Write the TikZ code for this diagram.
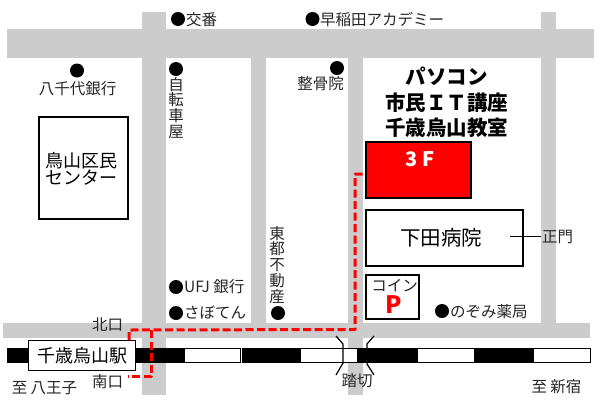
\documentclass[tikz,border=0pt]{standalone}
\usepackage{fontspec}
\setmainfont{Noto Sans CJK JP}
\definecolor{road}{HTML}{CCCCCC}
\definecolor{routered}{HTML}{FF0000}
\tikzset{
  roadfill/.style={fill=road,draw=none},
  building/.style={draw=black,line width=2pt,fill=white,inner sep=0pt,anchor=north west},
  railblack/.style={fill=black,draw=black,line width=1pt},
  railwhite/.style={fill=white,draw=black,line width=1pt},
  poi/.style={circle,fill=black,inner sep=0pt,minimum size=14pt},
  lbl/.style={font=\fontsize{15.5}{16}\selectfont,inner sep=0pt,text=black!85},
  vlbl/.style={font=\fontsize{15.5}{15.7}\selectfont,inner sep=0pt,align=center,text=black!85},
  route/.style={draw=routered,line width=3pt,dash pattern=on 8pt off 3.5pt,line join=round},
  gate/.style={draw=black,line width=1.2pt}
}
\begin{document}
\begin{tikzpicture}[x=1pt,y=-1pt]
\useasboundingbox (0,0) rectangle (600,400);
\fill[white] (0,0) rectangle (600,400);
% roads
\fill[roadfill] (7,29) rectangle (594,58);
\fill[roadfill] (142,12) rectangle (166,395);
\fill[roadfill] (251,58) rectangle (266,323);
\fill[roadfill] (348,58) rectangle (363,395);
\fill[roadfill] (541,12) rectangle (556,323);
\fill[roadfill] (3,323) rectangle (590,338);
% railway
\draw[railblack] (7.5,348.5) rectangle (184,362);
\draw[railwhite] (184,348.5) rectangle (240.5,362);
\draw[railblack] (242.5,348.5) rectangle (300,362);
\draw[railwhite] (300,348.5) rectangle (357,362);
\draw[railblack] (357,348.5) rectangle (416,362);
\draw[railwhite] (417.5,348.5) rectangle (474,362);
\draw[railblack] (474,348.5) rectangle (533,362);
\draw[railwhite] (533,348.5) rectangle (590,362);
% crossing gates
\draw[gate] (336,336) -- (343,344) -- (343,363) -- (336,375);
\draw[gate] (374,336) -- (367,344) -- (367,364) -- (374,375);
% buildings
\node[building,minimum width=88.5pt,minimum height=102pt] (center) at (38,116) {};
\node[building,fill=red,minimum width=105pt,minimum height=56pt] (school) at (365,141) {};
\node[building,minimum width=157pt,minimum height=56pt] (hospital) at (365,209) {};
\node[building,minimum width=53pt,minimum height=44pt] (coin) at (365,274) {};
\node[draw=black,line width=1pt,fill=white,minimum width=107pt,minimum height=30pt,anchor=north west,inner sep=0pt,font=\fontsize{18}{18}\selectfont] (station) at (28,340) {千歳烏山駅};
% route
\coordinate (r1) at (129,340);
\coordinate (r2) at (129,330);
\coordinate (r3) at (355,329.5);
\coordinate (r4) at (355,174);
\coordinate (r5) at (366,174);
\coordinate (r6) at (151,330);
\coordinate (r7) at (151,376.5);
\coordinate (r8) at (128,376.5);
\draw[route] (r1) -- (r2) -- (r3) -- (r4) -- (r5);
\draw[route] (r6) -- (r7) -- (r8);
% points of interest
\node[poi] (d1) at (178,19) {};
\node[poi] (d2) at (312.5,19) {};
\node[poi] (d3) at (77,70.5) {};
\node[poi] (d4) at (176,69) {};
\node[poi] (d5) at (337,68) {};
\node[poi] (d6) at (176,287) {};
\node[poi] (d7) at (176,313) {};
\node[poi] (d8) at (278,313) {};
\node[poi] (d9) at (442,311) {};
% labels
\node[lbl,anchor=west] (t1) at (186,20) {交番};
\node[lbl,anchor=west] (t2) at (320,20) {早稲田アカデミー};
\node[lbl] (t3) at (77.5,89) {八千代銀行};
\node[vlbl,anchor=north] (t4) at (176,77) {自\\転\\車\\屋};
\node[lbl] (t5) at (320.5,84) {整骨院};
\node[lbl,anchor=west] (t6) at (184,287) {UFJ 銀行};
\node[lbl,anchor=west] (t7) at (184,313) {さぼてん};
\node[vlbl,anchor=north] (t8) at (277,226) {東\\都\\不\\動\\産};
\node[lbl,anchor=west] (t9) at (450,312) {のぞみ薬局};
\node[lbl,anchor=west] (t10) at (542,237) {正門};
\node[lbl] (t11) at (107.5,325) {北口};
\node[lbl] (t12) at (107.5,382) {南口};
\node[lbl] (t13) at (44.5,388) {至 八王子};
\node[lbl] (t14) at (357,381) {踏切};
\node[lbl] (t15) at (556.5,387) {至 新宿};
\node[font=\fontsize{18}{15.5}\selectfont,align=center,inner sep=0pt] (t16) at (81.5,169) {鳥山区民\\センター};
\node[font=\bfseries\fontsize{20.5}{25.5}\selectfont,align=center,inner sep=0pt] (t17) at (446.5,102.5) {パソコン\\市民ＩＴ講座\\千歳烏山教室};
\node[font=\bfseries\fontsize{20}{20}\selectfont,text=white,inner sep=0pt] (t18) at (420,159) {3\hspace{4pt}F};
\node[font=\fontsize{20.5}{21}\selectfont,inner sep=0pt] (t19) at (441,238) {下田病院};
\node[lbl] (t20) at (394.5,286) {コイン};
\node[font=\bfseries\fontsize{24}{24}\selectfont,text=red,inner sep=0pt] (t21) at (393.5,305) {P};
\coordinate (gateL) at (510,236);
\coordinate (gateR) at (541,236);
\draw[black,line width=0.8pt] (gateL) -- (gateR);
\end{tikzpicture}
\end{document}
